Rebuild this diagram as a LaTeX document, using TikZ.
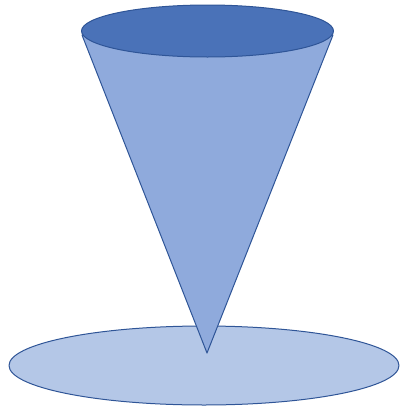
\documentclass[tikz,border=0pt]{standalone}
\usepackage{tikz}

\definecolor{rimblue}{HTML}{4A72B8}
\definecolor{coneblue}{HTML}{8FAADC}
\definecolor{baseblue}{HTML}{B4C7E7}
\definecolor{edgeblue}{HTML}{2F5597}

\begin{document}
\begin{tikzpicture}[
    x=1pt, y=-1pt,
    every shape/.style={draw=edgeblue, line width=1pt, line join=round}
]

\useasboundingbox (0,0) rectangle (400,407);

%% ── Base ellipse ─────────────────────────────────────────────────────────────
\draw[every shape, fill=baseblue] (204,365.5) ellipse [x radius=195, y radius=39.5];

%% ── Cone body ────────────────────────────────────────────────────────────────
\coordinate (apex) at (207,353);
\coordinate (rimL) at (82,35);
\coordinate (rimR) at (333,35);
\draw[every shape, fill=coneblue] (rimL) -- (apex) -- (rimR) -- cycle;

%% ── Top rim ──────────────────────────────────────────────────────────────────
\draw[every shape, fill=rimblue] (207.5,31) ellipse [x radius=126, y radius=26];

\end{tikzpicture}
\end{document}
